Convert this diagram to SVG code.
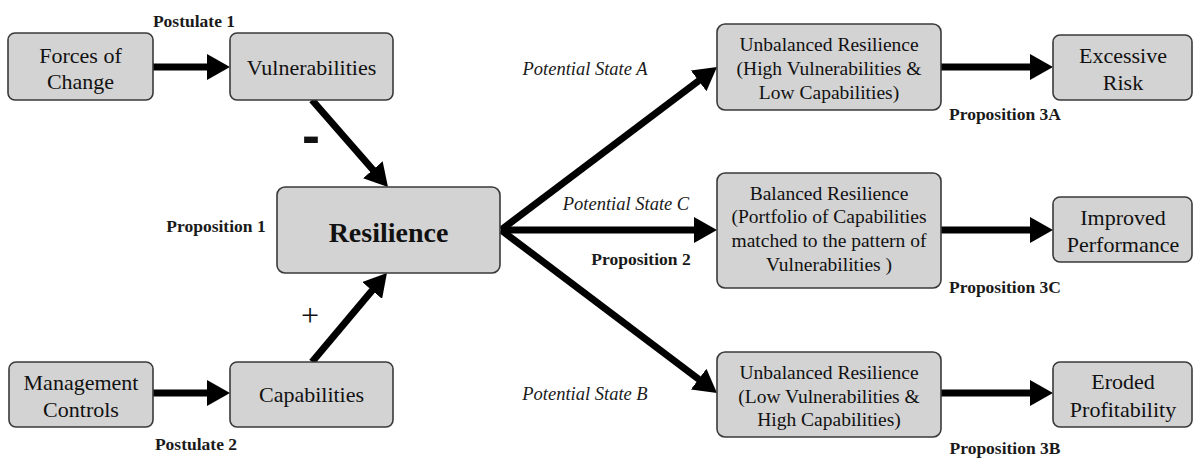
<svg xmlns="http://www.w3.org/2000/svg" width="1193" height="459" viewBox="0 0 1193 459">
  <style>
    .box { fill: #d3d3d3; stroke: #3a3a3a; stroke-width: 1.6; }
    .node { font-family: "Liberation Serif", "Times New Roman", serif; font-size: 22px; fill: #111; text-anchor: middle; }
    .state { font-family: "Liberation Serif", "Times New Roman", serif; font-size: 19.5px; fill: #111; text-anchor: middle; }
    .title { font-family: "Liberation Serif", "Times New Roman", serif; font-size: 28px; font-weight: bold; fill: #111; text-anchor: middle; }
    .label { font-family: "Liberation Serif", "Times New Roman", serif; font-size: 17.5px; font-weight: bold; fill: #1a1a1a; text-anchor: middle; }
    .ital { font-family: "Liberation Serif", "Times New Roman", serif; font-size: 18.5px; font-style: italic; fill: #1a1a1a; text-anchor: middle; }
    .conn { stroke: #000; stroke-width: 7; fill: none; marker-end: url(#head); }
  </style>
  <defs>
    <marker id="head" markerUnits="userSpaceOnUse" markerWidth="24" markerHeight="26" refX="13" refY="13" orient="auto">
      <path d="M0,0 L23,13 L0,26 Z" fill="#000"/>
    </marker>
  </defs>
  <rect width="1193" height="459" fill="#fff"/>

  <!-- connectors (line ends 10px short of the tip; the marker supplies the rest) -->
  <g id="connectors">
    <line class="conn" x1="153" y1="67" x2="220" y2="67"/>
    <line class="conn" x1="153" y1="393" x2="220" y2="393"/>
    <line class="conn" x1="312" y1="100" x2="381.4" y2="179.5"/>
    <line class="conn" x1="312" y1="362" x2="380.5" y2="280.6"/>
    <line class="conn" x1="501" y1="230" x2="709" y2="73"/>
    <line class="conn" x1="501" y1="230" x2="707" y2="230"/>
    <line class="conn" x1="501" y1="230" x2="709" y2="387"/>
    <line class="conn" x1="941" y1="67" x2="1043" y2="67"/>
    <line class="conn" x1="941" y1="230" x2="1043" y2="230"/>
    <line class="conn" x1="941" y1="393" x2="1043" y2="393"/>
  </g>

  <!-- edge labels -->
  <g id="labels">
    <text class="label" x="194" y="27">Postulate 1</text>
    <text class="label" x="196" y="450">Postulate 2</text>
    <text class="label" x="216" y="232">Proposition 1</text>
    <text class="label" x="641" y="265">Proposition 2</text>
    <text class="label" x="1005" y="120">Proposition 3A</text>
    <text class="label" x="1005" y="293">Proposition 3C</text>
    <text class="label" x="1005" y="454">Proposition 3B</text>
    <text class="ital" x="585" y="75">Potential State A</text>
    <text class="ital" x="626" y="210">Potential State C</text>
    <text class="ital" x="585" y="400">Potential State B</text>
    <text x="311" y="154" font-family="Liberation Sans, Arial, sans-serif" font-size="54" font-weight="bold" text-anchor="middle" fill="#111">-</text>
    <text x="310" y="326" font-family="Liberation Serif, Times New Roman, serif" font-size="32" text-anchor="middle" fill="#111">+</text>
  </g>

  <g id="forces">
    <rect class="box" x="8" y="33" width="145" height="67" rx="7"/>
    <text class="node" x="80.5" y="63">Forces of</text>
    <text class="node" x="80.5" y="89">Change</text>
  </g>
  <g id="vulnerabilities">
    <rect class="box" x="230" y="33" width="163" height="67" rx="7"/>
    <text class="node" x="311.5" y="75">Vulnerabilities</text>
  </g>
  <g id="resilience">
    <rect class="box" x="277" y="187" width="223" height="86" rx="8"/>
    <text class="title" x="388.5" y="242">Resilience</text>
  </g>
  <g id="management">
    <rect class="box" x="9" y="362" width="144" height="65" rx="7"/>
    <text class="node" x="81" y="390">Management</text>
    <text class="node" x="81" y="417">Controls</text>
  </g>
  <g id="capabilities">
    <rect class="box" x="230" y="362" width="163" height="65" rx="7"/>
    <text class="node" x="311.5" y="402">Capabilities</text>
  </g>
  <g id="state-a">
    <rect class="box" x="717" y="24" width="224" height="86" rx="8"/>
    <text class="state" x="829" y="51">Unbalanced Resilience</text>
    <text class="state" x="829" y="75">(High Vulnerabilities &amp;</text>
    <text class="state" x="829" y="99">Low Capabilities)</text>
  </g>
  <g id="state-c">
    <rect class="box" x="717" y="173" width="224" height="115" rx="8"/>
    <text class="state" x="829" y="200">Balanced Resilience</text>
    <text class="state" x="829" y="223">(Portfolio of Capabilities</text>
    <text class="state" x="829" y="247">matched to the pattern of</text>
    <text class="state" x="829" y="271">Vulnerabilities )</text>
  </g>
  <g id="state-b">
    <rect class="box" x="717" y="352" width="224" height="85" rx="8"/>
    <text class="state" x="829" y="379">Unbalanced Resilience</text>
    <text class="state" x="829" y="403">(Low Vulnerabilities &amp;</text>
    <text class="state" x="829" y="426">High Capabilities)</text>
  </g>
  <g id="excessive-risk">
    <rect class="box" x="1053" y="35" width="139" height="65" rx="7"/>
    <text class="node" x="1123" y="63">Excessive</text>
    <text class="node" x="1123" y="90">Risk</text>
  </g>
  <g id="improved-performance">
    <rect class="box" x="1053" y="197" width="139" height="65" rx="7"/>
    <text class="node" x="1123" y="225">Improved</text>
    <text class="node" x="1123" y="252">Performance</text>
  </g>
  <g id="eroded-profitability">
    <rect class="box" x="1053" y="362" width="139" height="65" rx="7"/>
    <text class="node" x="1123" y="389">Eroded</text>
    <text class="node" x="1123" y="417">Profitability</text>
  </g>
</svg>
